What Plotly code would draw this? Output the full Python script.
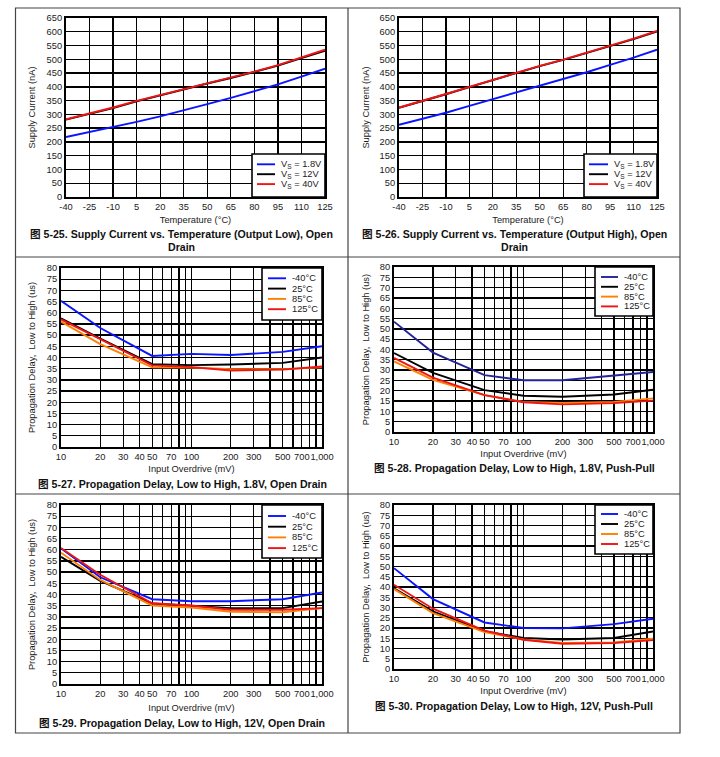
import plotly.graph_objects as go

W, H = 720, 757
FONT = "Liberation Sans, Arial, Noto Sans CJK SC, sans-serif"

# ---------------- data ----------------
temp_c = [-40, -25, -10, 5, 20, 35, 50, 65, 80, 95, 110, 125]
temp_ticks = [-40, -25, -10, 5, 20, 35, 50, 65, 80, 95, 110, 125]
temp_tick_text = ["-40", "-25", "-10", "5", "20", "35", "50", "65", "80", "95", "110", "125"]

iq_low_vs1v8 = [218, 236, 254, 273, 293, 314, 337, 360, 384, 409, 437, 466]
iq_low_vs12 = [281, 302, 323, 347, 369, 391, 412, 432, 454, 477, 504, 531]
iq_low_vs40 = [282, 303, 325, 349, 370, 392, 413, 433, 455, 479, 506, 535]

iq_high_vs1v8 = [262, 284, 306, 331, 355, 379, 403, 428, 453, 480, 506, 535]
iq_high_vs12 = [324, 348, 373, 399, 425, 451, 475, 498, 523, 548, 573, 601]
iq_high_vs40 = [325, 349, 374, 400, 426, 452, 476, 499, 524, 550, 575, 603]

overdrive_mv = [10, 20, 50, 100, 200, 500, 1000]

tpd_18od_m40 = [65.3, 53.2, 40.7, 41.6, 41.1, 42.5, 45.0]
tpd_18od_25 = [57.5, 48.5, 37.0, 36.6, 36.9, 37.6, 40.0]
tpd_18od_85 = [56.0, 46.0, 35.6, 35.5, 34.8, 34.8, 35.6]
tpd_18od_125 = [57.0, 48.3, 36.5, 35.7, 34.2, 34.6, 36.0]

tpd_18pp_m40 = [53.5, 38.5, 27.6, 25.1, 25.1, 27.2, 29.1]
tpd_18pp_25 = [38.3, 28.7, 20.3, 17.6, 17.1, 18.2, 20.5]
tpd_18pp_85 = [34.2, 25.3, 17.9, 14.6, 14.1, 14.6, 16.3]
tpd_18pp_125 = [35.9, 26.4, 17.9, 14.4, 13.4, 14.0, 15.2]

tpd_12od_m40 = [60.6, 47.7, 37.9, 37.0, 37.0, 37.9, 40.9]
tpd_12od_25 = [56.8, 46.1, 36.0, 35.0, 33.9, 33.9, 36.9]
tpd_12od_85 = [58.7, 46.5, 35.1, 34.2, 32.3, 32.1, 33.9]
tpd_12od_125 = [60.8, 48.8, 36.1, 35.1, 33.2, 33.2, 33.9]

tpd_12pp_m40 = [49.2, 34.1, 22.7, 20.0, 19.8, 21.9, 24.5]
tpd_12pp_25 = [39.3, 28.1, 18.5, 15.1, 14.4, 15.1, 18.3]
tpd_12pp_85 = [39.0, 27.3, 18.0, 14.4, 12.7, 13.0, 14.8]
tpd_12pp_125 = [41.1, 29.4, 18.7, 14.3, 12.3, 12.7, 14.1]

supply_labels = ["V<sub>S</sub> = 1.8V", "V<sub>S</sub> = 12V", "V<sub>S</sub> = 40V"]
temp_labels = ["-40°C", "25°C", "85°C", "125°C"]

log_tick_vals = [10, 20, 30, 40, 50, 70, 100, 200, 300, 500, 700, 1000]
log_tick_text = ["10", "20", "30", "40", "50", "70", "100", "200", "300", "500", "700", "1,000"]
log_minor_grid = [60, 80, 90, 400, 600, 800, 900]

captions = [
    ["<b>图 5-25. Supply Current vs. Temperature (Output Low), Open</b>", "<b>Drain</b>"],
    ["<b>图 5-26. Supply Current vs. Temperature (Output High), Open</b>", "<b>Drain</b>"],
    ["<b>图 5-27. Propagation Delay, Low to High, 1.8V, Open Drain</b>"],
    ["<b>图 5-28. Propagation Delay, Low to High, 1.8V, Push-Pull</b>"],
    ["<b>图 5-29. Propagation Delay, Low to High, 12V, Open Drain</b>"],
    ["<b>图 5-30. Propagation Delay, Low to High, 12V, Push-Pull</b>"],
]

BLUE = "#0a14ff"
NAVY = "#23239a"
BLACK = "#000000"
ORANGE = "#ff8000"
RED = "#f01414"


def px(x):
    return x / W


def py(y):
    return 1 - y / H


panels = [
    dict(plot=(66, 325, 18, 197), kind="lin", x=temp_c,
         ys=[iq_low_vs1v8, iq_low_vs12, iq_low_vs40], colors=[BLUE, BLACK, RED], labels=supply_labels,
         ytitle="Supply Current (nA)", xtitle="Temperature (°C)", ysoff=9, xsoff=5,
         leg=dict(box=(252, 325, 154, 197), line=(257, 275), tx=279, r0=164.3, dr=9.9),
         cap=(181.5, 234)),
    dict(plot=(399, 657, 18, 197), kind="lin", x=temp_c,
         ys=[iq_high_vs1v8, iq_high_vs12, iq_high_vs40], colors=[BLUE, BLACK, RED], labels=supply_labels,
         ytitle="Supply Current (nA)", xtitle="Temperature (°C)", ysoff=8, xsoff=5,
         leg=dict(box=(584, 657, 154, 197), line=(589, 608), tx=612, r0=164.3, dr=9.9),
         cap=(514, 234)),
    dict(plot=(61, 322, 268, 447), kind="log", x=overdrive_mv,
         ys=[tpd_18od_m40, tpd_18od_25, tpd_18od_85, tpd_18od_125],
         colors=[BLUE, BLACK, ORANGE, RED], labels=temp_labels,
         ytitle="Propagation Delay,  Low to High (us)", xtitle="Input Overdrive (mV)", ysoff=10, xsoff=4,
         leg=dict(box=(262, 322, 268, 320), line=(268, 286), tx=290, r0=278.3, dr=10.3),
         cap=(182, 484)),
    dict(plot=(394, 653, 267, 432), kind="log", x=overdrive_mv,
         ys=[tpd_18pp_m40, tpd_18pp_25, tpd_18pp_85, tpd_18pp_125],
         colors=[NAVY, BLACK, ORANGE, RED], labels=temp_labels,
         ytitle="Propagation Delay,  Low to High (us)", xtitle="Input Overdrive (mV)", ysoff=9, xsoff=4,
         leg=dict(box=(595, 653, 267, 316), line=(601, 618), tx=622, r0=277, dr=9.8),
         cap=(514, 468)),
    dict(plot=(61, 322, 505, 684), kind="log", x=overdrive_mv,
         ys=[tpd_12od_m40, tpd_12od_25, tpd_12od_85, tpd_12od_125],
         colors=[BLUE, BLACK, ORANGE, RED], labels=temp_labels,
         ytitle="Propagation Delay,  Low to High (us)", xtitle="Input Overdrive (mV)", ysoff=10, xsoff=6,
         leg=dict(box=(262, 322, 505, 558), line=(268, 286), tx=290, r0=516, dr=10.7),
         cap=(182, 723)),
    dict(plot=(394, 653, 505, 669), kind="log", x=overdrive_mv,
         ys=[tpd_12pp_m40, tpd_12pp_25, tpd_12pp_85, tpd_12pp_125],
         colors=[BLUE, BLACK, ORANGE, RED], labels=temp_labels,
         ytitle="Propagation Delay,  Low to High (us)", xtitle="Input Overdrive (mV)", ysoff=9, xsoff=4,
         leg=dict(box=(595, 653, 505, 554), line=(601, 618), tx=622, r0=514, dr=10.0),
         cap=(514, 706)),
]

fig = go.Figure()
layout = dict(width=W, height=H, margin=dict(l=0, r=0, t=0, b=0, pad=0),
              paper_bgcolor="white", plot_bgcolor="white", showlegend=False,
              font=dict(family=FONT, size=9.3, color="#1a1a1a"))
shapes = []
annotations = []

tick_font = dict(family=FONT, size=9.3, color="#1a1a1a")
title_font = dict(family=FONT, size=9.3, color="#1a1a1a")
GRID = "#000000"

for i, p in enumerate(panels, start=1):
    l, r, t, b = p["plot"]
    xa = dict(domain=[px(l), px(r)], anchor=f"y{i}", showgrid=True, gridcolor=GRID,
              gridwidth=1.3, showline=True, linecolor="#000000", linewidth=2, mirror=True,
              ticks="", tickfont=tick_font, zeroline=False, fixedrange=True, tickangle=0,
              automargin=False,
              title=dict(text=p["xtitle"], font=title_font, standoff=p["xsoff"]))
    ya = dict(domain=[py(b), py(t)], anchor=f"x{i}", showgrid=True, gridcolor=GRID,
              gridwidth=1.3, showline=True, linecolor="#000000", linewidth=2, mirror=True,
              ticks="", tickfont=tick_font, zeroline=False, fixedrange=True,
              automargin=False,
              title=dict(text=p["ytitle"], font=title_font, standoff=p["ysoff"]))
    if p["kind"] == "lin":
        xa.update(range=[-40, 125], tickmode="array", tickvals=temp_ticks, ticktext=temp_tick_text)
        ya.update(range=[0, 650], dtick=50, tick0=0)
    else:
        xa.update(type="log", range=[1, 3], tickmode="array", tickvals=log_tick_vals,
                  ticktext=log_tick_text,
                  minor=dict(tickmode="array", tickvals=log_minor_grid, showgrid=True,
                             gridcolor=GRID, gridwidth=1.3, ticks=""))
        ya.update(range=[0, 80], dtick=5, tick0=0)
    layout["xaxis" if i == 1 else f"xaxis{i}"] = xa
    layout["yaxis" if i == 1 else f"yaxis{i}"] = ya

    for ys, col, lab in zip(p["ys"], p["colors"], p["labels"]):
        fig.add_trace(go.Scatter(x=p["x"], y=ys, mode="lines", name=lab,
                                 line=dict(color=col, width=1.9),
                                 xaxis=f"x{i}", yaxis=f"y{i}", showlegend=False,
                                 hoverinfo="skip"))

    # legend drawn as box + sample lines + text
    lg = p["leg"]
    bx0, bx1, by0, by1 = lg["box"]
    shapes.append(dict(type="rect", xref="paper", yref="paper", x0=px(bx0), x1=px(bx1),
                       y0=py(by1), y1=py(by0), fillcolor="white",
                       line=dict(color="black", width=1.6), layer="above"))
    for k, (col, lab) in enumerate(zip(p["colors"], p["labels"])):
        yy = lg["r0"] + k * lg["dr"]
        shapes.append(dict(type="line", xref="paper", yref="paper", x0=px(lg["line"][0]),
                           x1=px(lg["line"][1]), y0=py(yy), y1=py(yy),
                           line=dict(color=col, width=1.9), layer="above"))
        annotations.append(dict(text=lab, xref="paper", yref="paper", x=px(lg["tx"]), y=py(yy),
                                xanchor="left", yanchor="middle", showarrow=False,
                                font=dict(family=FONT, size=9.3, color="#1a1a1a")))

    # captions
    cx, cy = p["cap"]
    for j, line in enumerate(captions[i - 1]):
        annotations.append(dict(text=line, xref="paper", yref="paper", x=px(cx),
                                y=py(cy + j * 12.5), showarrow=False, xanchor="center",
                                yanchor="middle",
                                font=dict(family=FONT, size=10.6, color="#111111")))

# table borders
BORDER = dict(color="#444444", width=1.2)
shapes.append(dict(type="rect", xref="paper", yref="paper", x0=px(15.5), x1=px(680),
                   y0=py(733), y1=py(8), line=BORDER, layer="below"))
shapes.append(dict(type="line", xref="paper", yref="paper", x0=px(348), x1=px(348),
                   y0=py(733), y1=py(8), line=BORDER, layer="below"))
for yy in (257, 494):
    shapes.append(dict(type="line", xref="paper", yref="paper", x0=px(15.5), x1=px(680),
                       y0=py(yy), y1=py(yy), line=BORDER, layer="below"))

layout["shapes"] = shapes
layout["annotations"] = annotations
fig.update_layout(**layout)
fig.write_html(
    "out.html",
    config={"displayModeBar": False, "staticPlot": True},
    post_script=(
        "document.documentElement.style.margin='0';"
        "document.body.style.margin='0';document.body.style.padding='0';"
        "document.documentElement.style.overflow='hidden';document.body.style.overflow='hidden';"
    ),
)
